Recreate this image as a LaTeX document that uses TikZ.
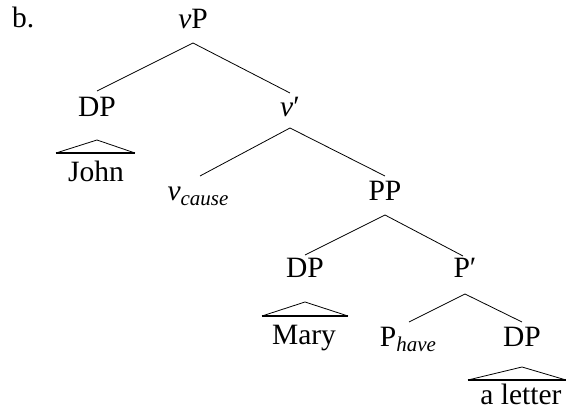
\documentclass[tikz,border=0pt]{standalone}
\usepackage{fontspec}
\setmainfont{Liberation Serif}
\newcommand\mysubtxt[1]{\raisebox{-5pt}{\fontsize{21}{24}\selectfont\itshape #1}}
\begin{document}
\begin{tikzpicture}[x=1pt,y=-1pt,
  lab/.style={inner sep=0pt,anchor=base,font=\fontsize{29.5}{36}\selectfont},
  br/.style={line width=0.8pt},
  tribase/.style={line width=1.6pt}]
\useasboundingbox (0,0) rectangle (566,411);
% labels
\node[lab,anchor=base west] (b) at (12,28) {b.};
\node[lab] (vP) at (193,29) {\textit{v}P};
\node[lab] (DPa) at (97,117) {DP};
\node[lab] (vbar) at (290,117) {\textit{v}′};
\node[lab] (John) at (96,182) {John};
\node[lab] (vcause) at (198,201) {\textit{v}\mysubtxt{cause}};
\node[lab] (PP) at (385,201) {PP};
\node[lab] (DPb) at (305,278) {DP};
\node[lab] (Pbar) at (465,278) {P′};
\node[lab] (Mary) at (304,345) {Mary};
\node[lab] (Phave) at (408,347) {P\mysubtxt{have}};
\node[lab] (DPc) at (522,347) {DP};
\node[lab] (letter) at (521,405) {a letter};
% branches
\draw[br] ([yshift=-14pt]vP.base) -- ([yshift=26pt]DPa.base);
\draw[br] ([yshift=-14pt]vP.base) -- ([yshift=24pt]vbar.base);
\draw[br] ([yshift=-11pt]vbar.base) -- ([xshift=2pt,yshift=25pt]vcause.base);
\draw[br] ([yshift=-11pt]vbar.base) -- ([yshift=25pt]PP.base);
\draw[br] ([yshift=-14pt]PP.base) -- ([yshift=23pt]DPb.base);
\draw[br] ([yshift=-14pt]PP.base) -- ([xshift=-2pt,yshift=22pt]Pbar.base);
\draw[br] ([yshift=-16pt]Pbar.base) -- ([xshift=1pt,yshift=25pt]Phave.base);
\draw[br] ([yshift=-16pt]Pbar.base) -- ([yshift=25pt]DPc.base);
% triangles
\draw[br] ([xshift=-40pt,yshift=29pt]John.base) -- ([yshift=-23pt]DPa.base) -- ([xshift=39pt,yshift=29pt]John.base);
\draw[tribase] ([xshift=-40pt,yshift=29pt]John.base) -- ([xshift=39pt,yshift=29pt]John.base);
\draw[br] ([xshift=-42pt,yshift=29pt]Mary.base) -- ([yshift=-24pt]DPb.base) -- ([xshift=44pt,yshift=29pt]Mary.base);
\draw[tribase] ([xshift=-42pt,yshift=29pt]Mary.base) -- ([xshift=44pt,yshift=29pt]Mary.base);
\draw[br] ([xshift=-53pt,yshift=25pt]letter.base) -- ([yshift=-20pt]DPc.base) -- ([xshift=45pt,yshift=25pt]letter.base);
\draw[tribase] ([xshift=-53pt,yshift=25pt]letter.base) -- ([xshift=45pt,yshift=25pt]letter.base);
\end{tikzpicture}
\end{document}
